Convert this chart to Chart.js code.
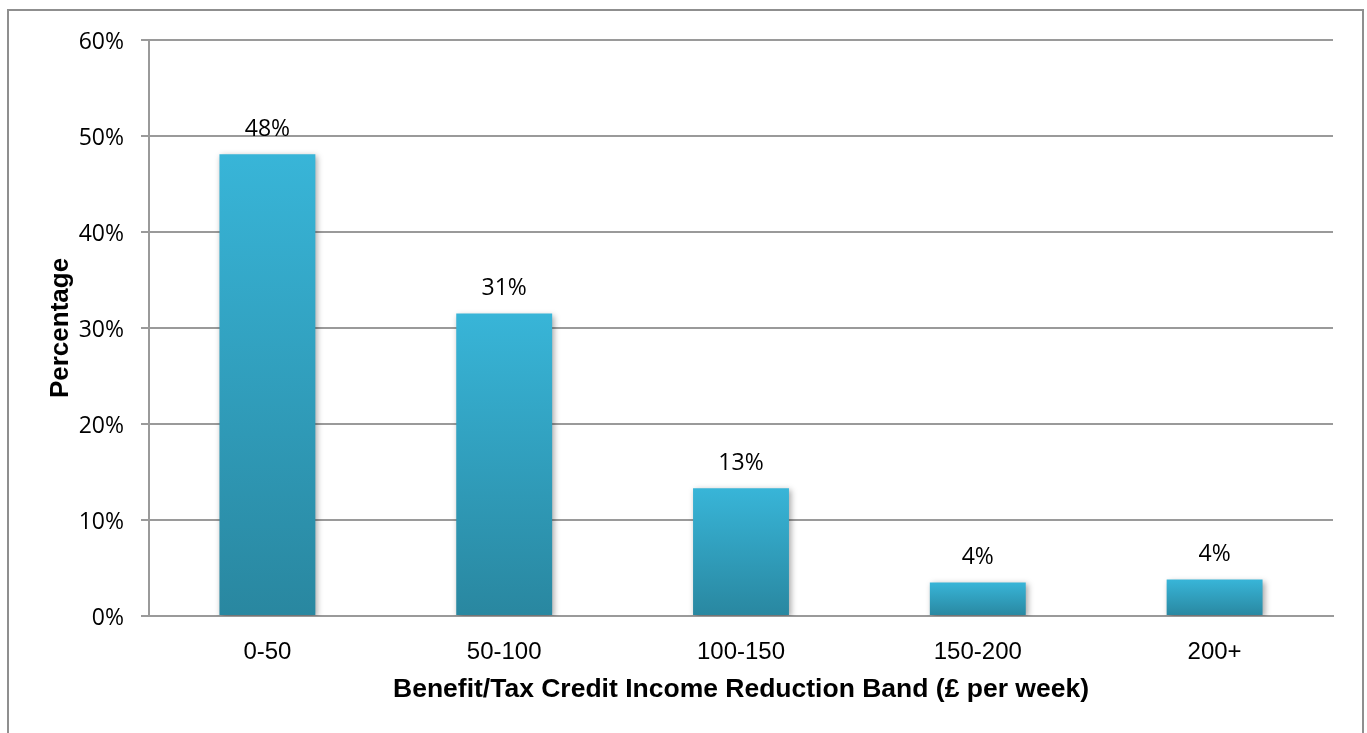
<!DOCTYPE html>
<html>
<head>
<meta charset="utf-8">
<script src="https://cdn.jsdelivr.net/npm/chart.js@4/dist/chart.umd.min.js"></script>
<style>
  html, body { margin: 0; padding: 0; background: #fff; overflow: hidden; }
  #wrap { position: relative; width: 1367px; height: 733px; }
  #frame { position: absolute; left: 7px; top: 9px; width: 1353px; height: 800px; border: 2px solid #8f8f8f; }
  #myChart { position: absolute; left: 0; top: 0; }
</style>
</head>
<body>
<div id="wrap">
  <div id="frame"></div>
  <canvas id="myChart" width="1367" height="733"></canvas>
</div>
<script>
var bands = ["0-50", "50-100", "100-150", "150-200", "200+"],
  shares = [48.1, 31.5, 13.3, 3.5, 3.8],
  shareLabels = ["48%", "31%", "13%", "4%", "4%"],
  yTicks = [0, 10, 20, 30, 40, 50, 60];

var gridGrey = "#9a9a9a";

// light at the top of each bar, darker at its base
function barFill(c) {
  var chart = c.chart;
  if (!chart.chartArea || c.raw === undefined) return "#33a8c9";
  var y = chart.scales.y,
    top = y.getPixelForValue(c.raw),
    base = y.getPixelForValue(0),
    g = chart.ctx.createLinearGradient(0, top, 0, base);
  g.addColorStop(0, "#38b5d8");
  g.addColorStop(1, "#2987a0");
  return g;
}

var barShadow = {
  id: "barShadow",
  beforeDatasetDraw: function(chart) {
    var ctx = chart.ctx;
    ctx.save();
    ctx.shadowColor = "rgba(0,0,0,0.35)";
    ctx.shadowBlur = 6;
    ctx.shadowOffsetX = 2;
    ctx.shadowOffsetY = 2;
  },
  afterDatasetDraw: function(chart) {
    chart.ctx.restore();
  }
};

var valueLabels = {
  id: "valueLabels",
  afterDatasetsDraw: function(chart) {
    var ctx = chart.ctx,
      meta = chart.getDatasetMeta(0);
    ctx.save();
    ctx.font = "23px 'Open Sans'";
    ctx.fillStyle = "#000";
    ctx.textAlign = "center";
    ctx.textBaseline = "middle";
    meta.data.forEach(function(bar, i) {
      ctx.fillText(shareLabels[i], bar.x, bar.y - 25);
    });
    ctx.restore();
  }
};

var ctx = document.getElementById("myChart"),
  config = {
    type: "bar",
    data: {
      labels: bands,
      datasets: [
        {
          data: shares,
          backgroundColor: barFill,
          borderWidth: 0,
          categoryPercentage: 1,
          barPercentage: 0.405
        }
      ]
    },
    options: {
      responsive: false,
      animation: false,
      layout: { padding: { left: 0, top: 40, right: 34, bottom: 0 } },
      plugins: { legend: { display: false }, tooltip: { enabled: false } },
      scales: {
        x: {
          grid: { display: false, drawTicks: false },
          border: { display: true, color: gridGrey, width: 2 },
          ticks: {
            padding: 22,
            color: "#000",
            font: { family: "'Liberation Sans', Arial", size: 24 }
          },
          title: {
            display: true,
            text: "Benefit/Tax Credit Income Reduction Band (£ per week)",
            color: "#000",
            font: { family: "'Liberation Sans', Arial", size: 26.5, weight: "bold" },
            padding: { top: 0, bottom: 27 }
          },
          afterFit: function(scale) { scale.height = 117; }
        },
        y: {
          min: 0,
          max: 60,
          afterBuildTicks: function(scale) {
            scale.ticks = yTicks.map(function(v) { return { value: v }; });
          },
          grid: { color: gridGrey, lineWidth: 2, tickLength: 8 },
          border: { display: true, color: gridGrey, width: 2 },
          ticks: {
            padding: 17,
            labelOffset: 2,
            color: "#000",
            font: { family: "'Open Sans'", size: 23 },
            callback: function(v) { return v + "%"; }
          },
          title: {
            display: true,
            text: "Percentage",
            color: "#000",
            font: { family: "'Liberation Sans', Arial", size: 26, weight: "bold" },
            padding: { top: 45, bottom: 0 }
          },
          afterFit: function(scale) { scale.width = 149; }
        }
      }
    },
    plugins: [barShadow, valueLabels]
  };

var myChart = new Chart(ctx, config);
</script>
</body>
</html>
